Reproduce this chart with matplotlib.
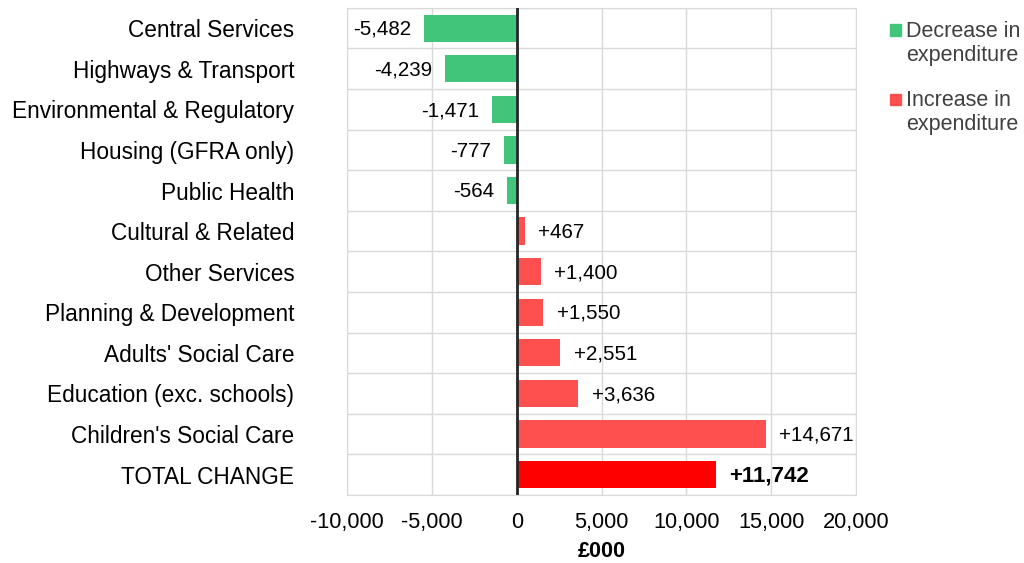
import matplotlib
matplotlib.use('Agg')
import matplotlib.pyplot as plt
from matplotlib.patches import Rectangle
import numpy as np

plt.rcParams['font.family'] = ['Liberation Sans', 'DejaVu Sans']

categories = [
    "Central Services", "Highways & Transport", "Environmental & Regulatory",
    "Housing (GFRA only)", "Public Health", "Cultural & Related",
    "Other Services", "Planning & Development", "Adults' Social Care",
    "Education (exc. schools)", "Children's Social Care", "TOTAL CHANGE",
]
changes = [-5482, -4239, -1471, -777, -564, 467, 1400, 1550, 2551, 3636, 14671, 11742]
x_ticks = [-10000, -5000, 0, 5000, 10000, 15000, 20000]
legend_labels = ["Decrease in\nexpenditure", "Increase in\nexpenditure"]

green = '#40C57A'
red = '#FF5050'
total_red = '#FF0000'
grid_col = '#D9D9D9'

W, H = 1024, 563
fig = plt.figure(figsize=(W / 100, H / 100), dpi=100)
ax = fig.add_axes([0.339, 0.121, 0.497, 0.865])

n = len(categories)
ypos = np.arange(n)
colours = []
for i, v in enumerate(changes):
    if i == n - 1:
        colours.append(total_red)
    elif v < 0:
        colours.append(green)
    else:
        colours.append(red)
ax.barh(ypos, changes, height=0.67, color=colours, zorder=3)

# value labels
for i, v in enumerate(changes):
    txt = f"{v:+,}" if v > 0 else f"{v:,}"
    if i == n - 1:
        ax.text(v + 800, i + 0.03, txt, ha='left', va='center', fontsize=16,
                fontweight='bold', zorder=4)
    elif v < 0:
        ax.text(v - 750, i + 0.03, txt, ha='right', va='center', fontsize=14.8, zorder=4)
    else:
        ax.text(v + 800, i + 0.03, txt, ha='left', va='center', fontsize=14.8, zorder=4)

ax.set_xlim(-10000, 20000)
ax.set_ylim(n - 0.5, -0.5)
ax.set_xticks(x_ticks)
ax.set_xticklabels([f"{t:,}" for t in x_ticks], fontsize=15.7)
ax.set_yticks(ypos)
ax.set_yticklabels(categories, fontsize=16.3)
ax.tick_params(axis='both', length=0)
ax.tick_params(axis='y', pad=38)
ax.tick_params(axis='x', pad=12)
ax.set_xlabel("£000", fontsize=15.5, fontweight='bold', labelpad=6)

# grid: vertical at ticks, horizontal at category boundaries
for t in x_ticks:
    ax.axvline(t, color=grid_col, lw=1, zorder=1)
for b in np.arange(-0.5, n, 1.0):
    ax.axhline(b, color=grid_col, lw=1, zorder=1)
ax.axvline(0, color='#262626', lw=2, zorder=5)
for s in ax.spines.values():
    s.set_color(grid_col)

# legend drawn by hand so the square sits on the first text line
for k, (lab, col) in enumerate(zip(legend_labels, [green, red])):
    y_top = 30 + 69 * k
    fig.patches.append(Rectangle((890 / W, 1 - (y_top + 5.5) / H), 11 / W, 11 / H,
                                 transform=fig.transFigure, color=col))
    fig.text(906 / W, 1 - (y_top - 9) / H, lab, ha='left', va='top',
             fontsize=15.5, color='#404040', linespacing=1.17)

fig.savefig('out.png', dpi=100)
